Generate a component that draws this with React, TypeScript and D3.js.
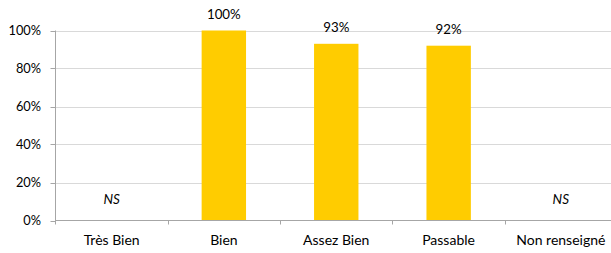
import React from 'react';
import * as d3 from 'd3';

const categories = ['Très Bien', 'Bien', 'Assez Bien', 'Passable', 'Non renseigné'];
const values: (number | null)[] = [null, 1.0, 0.93, 0.92, null];
const yTicks = [0, 0.2, 0.4, 0.6, 0.8, 1.0];

const W = 611;
const H = 253;
const left = 55.5;
const bandW = 112.3;
const top = 30.5;
const bottom = 220.5;
const font = 'Lato, "Open Sans", sans-serif';

export default function App() {
  const x = d3.scaleBand<string>()
    .domain(categories)
    .range([left, left + bandW * categories.length])
    .paddingInner(0.605)
    .paddingOuter(0.3);

  const y = d3.scaleLinear().domain([0, 1]).range([bottom, top]);
  const pct = d3.format('.0%');

  // band boundaries for the x tick marks
  const step = bandW;

  return (
    <svg width={W} height={H} style={{ position: 'absolute', left: 0, top: 0, background: '#fff' }}>
      {yTicks.map(t => (
        <g key={t}>
          {t > 0 && (
            <line x1={left} x2={W} y1={Math.round(y(t)) + 0.5} y2={Math.round(y(t)) + 0.5} stroke="#d9d9d9" strokeWidth={1} />
          )}
          <line x1={left - 5} x2={left} y1={Math.round(y(t)) + 0.5} y2={Math.round(y(t)) + 0.5} stroke="#a6a6a6" />
          <text x={41} y={y(t)} dy="0.35em" textAnchor="end" fontFamily={font} fontSize={12.8} fill="#000">
            {pct(t)}
          </text>
        </g>
      ))}

      {categories.map((c, i) => {
        const v = values[i];
        const cx = left + step * (i + 0.5);
        if (v == null) {
          return (
            <text key={c} x={cx} y={y(0.11)} dy="0.35em" textAnchor="middle" fontFamily={font} fontStyle="italic" fontSize={13.5} fill="#000">
              NS
            </text>
          );
        }
        return (
          <g key={c}>
            <rect x={x(c)} y={y(v)} width={x.bandwidth()} height={y(0) - y(v)} fill="#ffcc00" />
            <text x={(x(c) as number) + x.bandwidth() / 2} y={y(v) - 16} dy="0.35em" textAnchor="middle" fontFamily={font} fontSize={13.3} fill="#000">
              {pct(v)}
            </text>
          </g>
        );
      })}

      <line x1={left} x2={W} y1={bottom} y2={bottom} stroke="#a6a6a6" />
      <line x1={left} x2={left} y1={top} y2={bottom + 4} stroke="#a6a6a6" />
      {categories.map((c, i) => (
        <line key={'t' + c} x1={Math.round(left + step * (i + 1)) + 0.5} x2={Math.round(left + step * (i + 1)) + 0.5} y1={bottom} y2={bottom + 4} stroke="#a6a6a6" />
      ))}

      {categories.map((c, i) => (
        <text key={'l' + c} x={left + step * (i + 0.5)} y={240} dy="0.35em" textAnchor="middle" fontFamily={font} fontSize={14} fill="#000">
          {c}
        </text>
      ))}
    </svg>
  );
}
